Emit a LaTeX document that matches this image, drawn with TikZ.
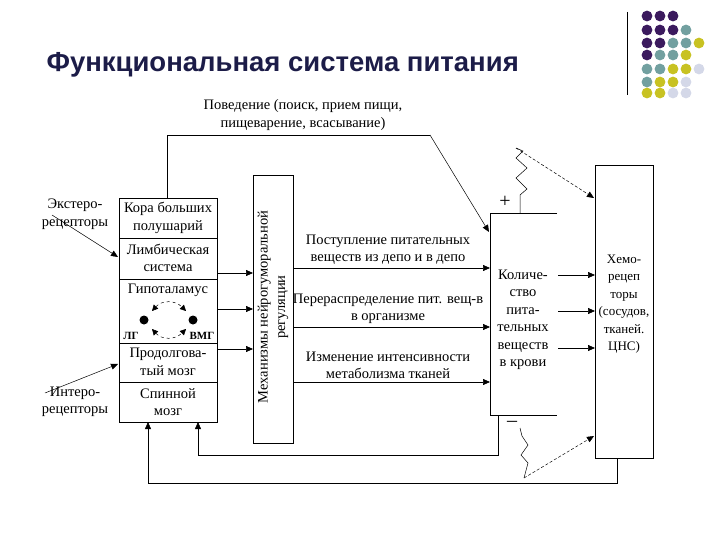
\documentclass[tikz,border=0pt]{standalone}
\usepackage{fontspec}
\setmainfont{Liberation Serif}
\newfontfamily\titlefont{Liberation Sans}
\usetikzlibrary{arrows.meta}
\definecolor{dP}{HTML}{3B1A5E}
\definecolor{dT}{HTML}{72A0A0}
\definecolor{dY}{HTML}{C8C222}
\definecolor{dL}{HTML}{D4D8E8}
\definecolor{ttl}{HTML}{1C1C48}
\begin{document}
\begin{tikzpicture}[x=1pt,y=-1pt,
  box/.style={draw,line width=0.8pt},
  lbl/.style={font=\fontsize{14.5}{17.5}\selectfont,align=center,inner sep=0pt},
  arr/.style={-{Triangle[length=7pt,width=6pt]},line width=0.7pt},
  thin/.style={line width=0.5pt}]
\useasboundingbox (0,0) rectangle (720,540);
% title
\node[anchor=west,font=\titlefont\bfseries\fontsize{27.5}{30}\selectfont,text=ttl] (title) at (43,65) {Функциональная система питания};
\draw[line width=1pt] (627,12) -- (627,95);
\foreach \r/\cs in {16/{P,P,P},30/{P,P,P,T},43/{P,P,T,T,Y},55/{P,T,T,Y},69/{T,T,Y,Y,L},82/{T,Y,Y,L},93/{Y,Y,L,L}}{
  \foreach \c [count=\i] in \cs { \fill[d\c] (634+13*\i,\r) circle (5.4); }
}
% brain box
\draw[box] (119,198) rectangle (217,422);
\foreach \yy in {238,279,343,382} \draw[box] (119,\yy) -- (217,\yy);
\node[lbl] (kora) at (168,218) {Кора больших\\полушарий};
\node[lbl] (limb) at (168,258) {Лимбическая\\система};
\node[lbl] (gipo) at (168,290) {Гипоталамус};
\node[lbl] (prod) at (168,362) {Продолгова-\\тый мозг};
\node[lbl] (spin) at (168,402) {Спинной\\мозг};
\coordinate (brainTop) at (167,198);
\coordinate (brainB1) at (148,422);
\coordinate (brainB2) at (198,422);
\fill (144,320) circle (4.5) coordinate (lg);
\fill (193,320) circle (4.5) coordinate (vmg);
\node[lbl,font=\fontsize{11}{12}\selectfont\bfseries] (lgt) at (131,336) {ЛГ};
\node[lbl,font=\fontsize{11}{12}\selectfont\bfseries] (vmgt) at (202,336) {ВМГ};
\draw[dashed,thin,{Triangle[length=6pt,width=6pt]}-{Triangle[length=6pt,width=6pt]}] (152,311) .. controls (162,300) and (175,300) .. (186,311);
\draw[dashed,thin,{Triangle[length=6pt,width=6pt]}-{Triangle[length=6pt,width=6pt]}] (152,329) .. controls (162,340) and (175,340) .. (186,329);
% mechanisms box
\draw[box] (253,175) rectangle (293,443);
\node[lbl,rotate=90] (mech) at (273,307) {Механизмы нейрогуморальной\\регуляции};
\foreach \yy in {273,309,349} \draw[arr] (217,\yy) -- (253,\yy);
% receptors
\node[lbl] (ext) at (75,214) {Экстеро-\\рецепторы};
\node[lbl] (int) at (75,402) {Интеро-\\рецепторы};
\draw[arr,thin] (52,215) -- (118,257);
\draw[arr,thin] (45,393) -- (118,364);
% top behaviour
\node[lbl] (beh) at (303,115) {Поведение (поиск, прием пищи,\\пищеварение, всасывание)};
\coordinate (kolTL) at (489,232);
\draw[thin] (brainTop) -- (167,135) -- (430,135);
\draw[arr,thin] (430,135) -- (kolTL);
% amount box
\draw[box] (557,213) -- (490,213) -- (490,415) -- (557,415);
\node[lbl] (kol) at (523,320) {Количе-\\ство\\пита-\\тельных\\веществ\\в крови};
\foreach \yy/\t in {268/{Поступление питательных\\веществ из депо и в депо},327/{Перераспределение пит. вещ-в\\в организме},382/{Изменение интенсивности\\метаболизма тканей}}{
  \draw[arr] (293,\yy) -- (490,\yy);
  \node[lbl,anchor=south] at (388,\yy-3) {\t};
}
% chemoreceptors box
\draw[box] (595,165) rectangle (653,458);
\node[lbl,font=\fontsize{13}{17.5}\selectfont] (chem) at (624,304) {Хемо-\\рецеп\\торы\\(сосудов,\\тканей.\\ЦНС)};
\foreach \yy in {275,311,348} \draw[arr] (558,\yy) -- (595,\yy);
% plus / minus
\node[lbl,font=\fontsize{20}{20}\selectfont] (plus) at (505,202) {+};
\node[lbl,font=\fontsize{20}{20}\selectfont] (minus) at (512,424) {\textendash};
\draw[thin] (520,213) -- (520,195) -- (527,189) -- (516,178) -- (527,168) -- (516,158) -- (523,151) -- (516,148);
\coordinate (ztop) at (516,148);
\draw[arr,thin,densely dashed] (ztop) -- (594,198);
\draw[thin] (520,428) -- (522,436) -- (528,445) -- (521,455) -- (528,463) -- (524,478);
\coordinate (zbot) at (524,478);
\draw[arr,thin,densely dashed] (zbot) -- (594,436);
% bottom feedback
\draw[thin] (498,415) -- (498,455) -- (198,455);
\draw[arr,thin] (198,455) -- (brainB2);
\draw[thin] (617,458) -- (617,483) -- (148,483);
\draw[arr,thin] (148,483) -- (brainB1);
\end{tikzpicture}
\end{document}
